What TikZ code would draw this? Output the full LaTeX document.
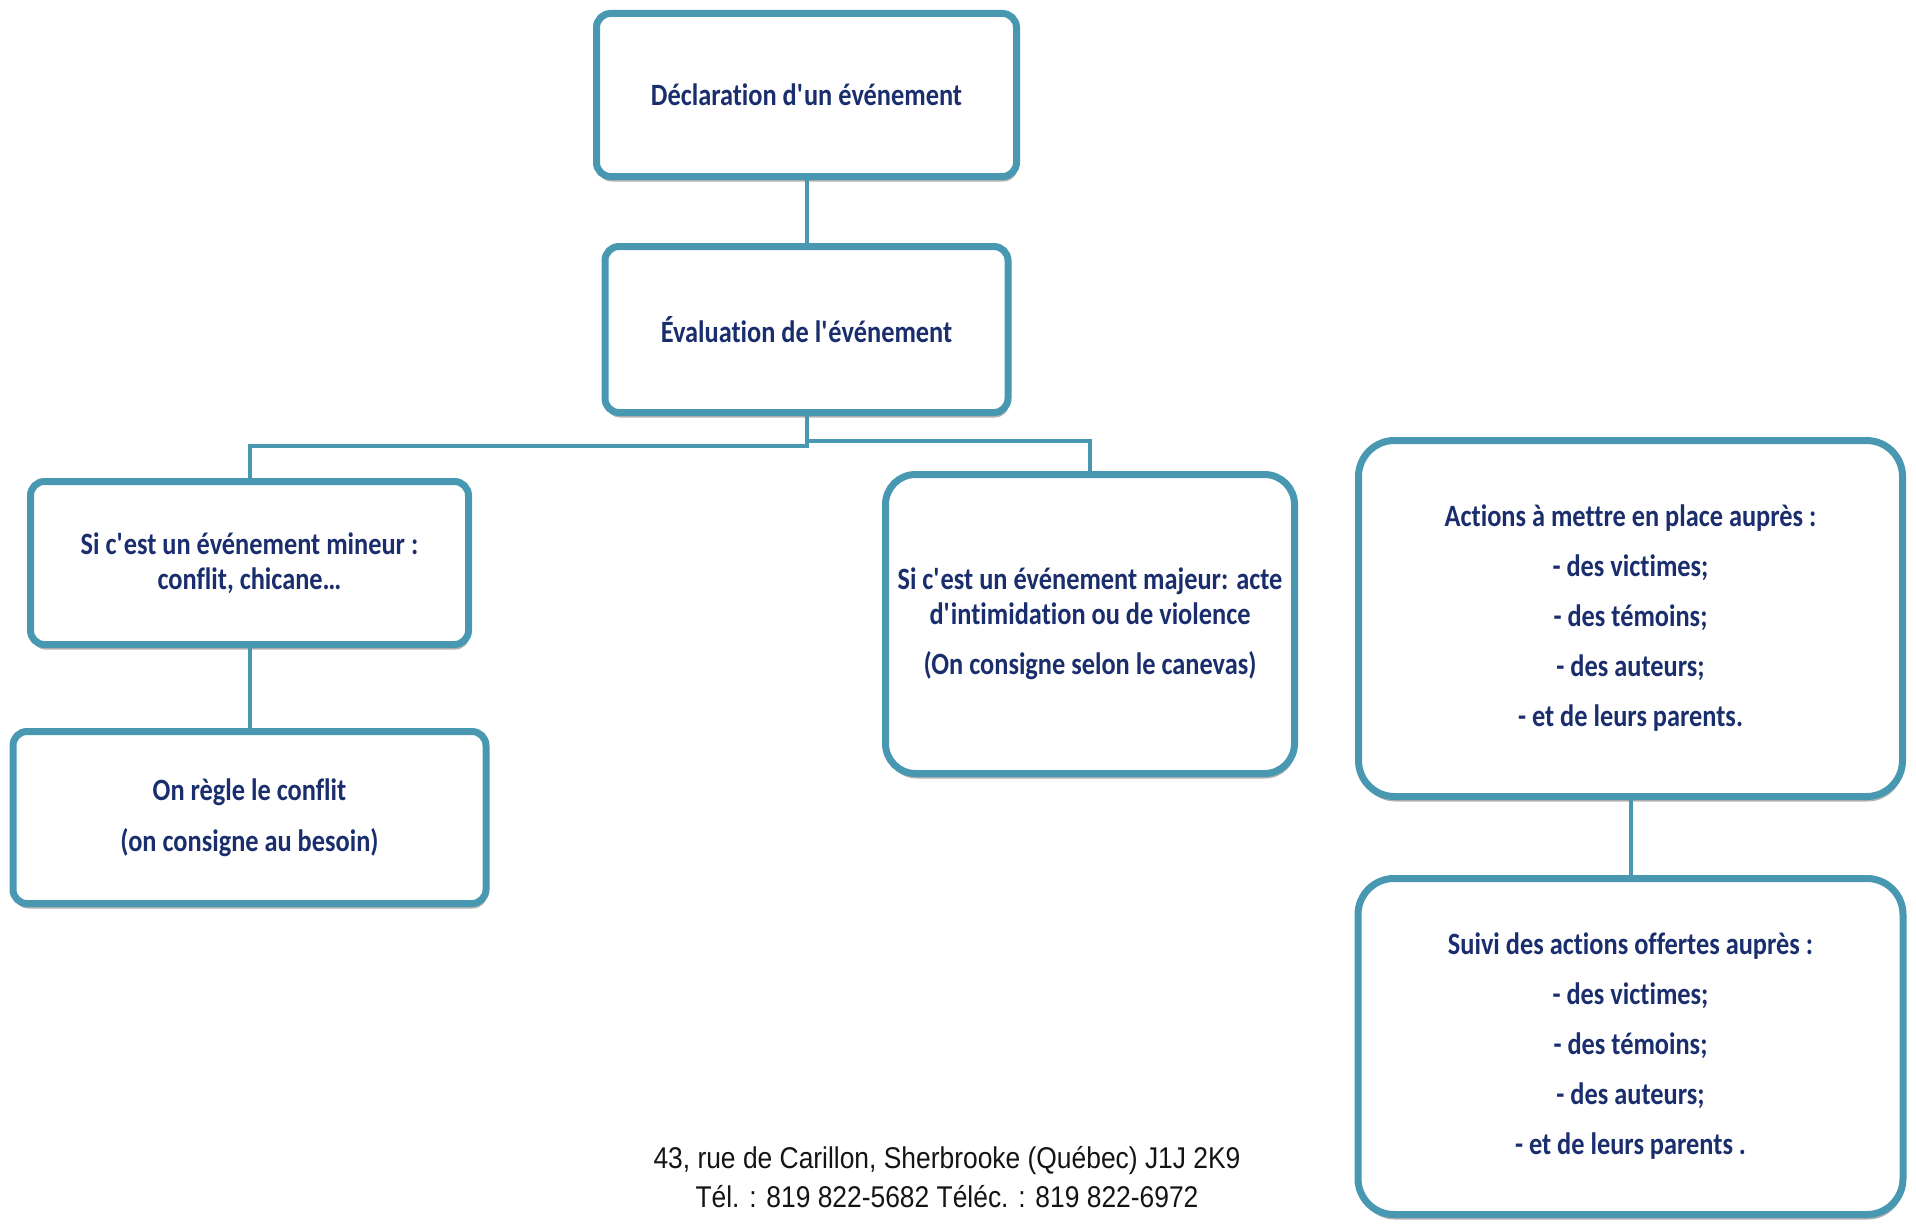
\documentclass[tikz,border=0pt]{standalone}
\usepackage{fontspec}
\newfontfamily\boxfont[FakeStretch=0.85, Ligatures=NoCommon]{Carlito}
\newfontfamily\footfont[FakeStretch=0.88]{Liberation Sans}
\usepackage{tikz}
\usetikzlibrary{positioning}
\usetikzlibrary{shadows}
\definecolor{bordercol}{RGB}{72,152,178}
\definecolor{textcol}{RGB}{26,46,110}
\definecolor{footcol}{RGB}{20,20,20}

\begin{document}
\begin{tikzpicture}[x=1pt, y=-1pt,
        box/.style = {
            draw = bordercol,
            line width = 7pt,
            fill = white,
            rounded corners = #1,
            align = center,
            text = textcol,
            inner sep = 0pt,
            font = \boxfont\bfseries\fontsize{31}{35}\selectfont,
            drop shadow = {shadow xshift=1pt, shadow yshift=-5pt, opacity=0.3, fill=black}
        },
        box/.default = 14pt,
        link/.style = {draw=bordercol, line width=4pt}
        ]
        \useasboundingbox (0,0) rectangle (1916,1223);
%
        \node[box, minimum width=420pt, minimum height=163pt] (1) at (806.5,95)
                {D\'eclaration d\textquotesingle un \'ev\'enement};
        \node[box, minimum width=403pt, minimum height=166pt, below=63pt of 1] (2)
                {\'Evaluation de l\textquotesingle\'ev\'enement};
%
        \node[box, minimum width=438pt, minimum height=163pt] (3) at (249.5,563)
                {Si c\textquotesingle est un \'ev\'enement mineur :\\ conflit, chicane…};
        \node[box, minimum width=473pt, minimum height=172pt, below=80pt of 3] (4)
                {On r\`egle le conflit\\[16pt] (on consigne au besoin)};
%
        \node[box=30pt, minimum width=409pt, minimum height=299pt] (5) at (1090,624)
                {Si c\textquotesingle est un \'ev\'enement majeur: acte\\
                 d\textquotesingle intimidation ou de violence\\[15pt]
                 (On consigne selon le canevas)};
%
        \node[box=36pt, minimum width=544pt, minimum height=356pt] (6) at (1630.5,618.5)
                {Actions \`a mettre en place aupr\`es :\\[15pt]
                 - des victimes;\\[15pt]
                 - des t\'emoins;\\[15pt]
                 - des auteurs;\\[15pt]
                 - et de leurs parents.};
        \node[box=36pt, minimum width=545pt, minimum height=336pt, below=75pt of 6] (7)
                {Suivi des actions offertes aupr\`es :\\[15pt]
                 - des victimes;\\[15pt]
                 - des t\'emoins;\\[15pt]
                 - des auteurs;\\[15pt]
                 - et de leurs parents .};
%
        \node[align=center, text=footcol, font=\footfont\fontsize{30}{39}\selectfont] (8) at (947,1177.5)
                {43, rue de Carillon, Sherbrooke (Qu\'ebec) J1J 2K9\\
                 T\'el. : 819 822-5682 T\'el\'ec. : 819 822-6972};
%
        \draw[link] (1) -- (2);
        \draw[link] (2.south) -- ([yshift=-30pt]2.south) -| (3.north);
        \draw[link] (2.south) -- ([yshift=-25pt]2.south) -| (5.north);
        \draw[link] (3) -- (4);
        \draw[link] (6) -- (7);
%
\end{tikzpicture}
\end{document}
